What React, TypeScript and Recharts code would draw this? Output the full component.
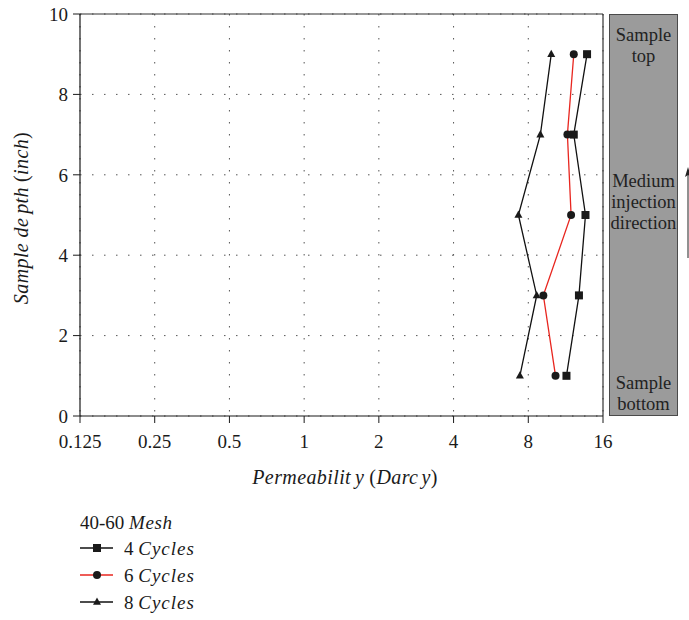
import React from 'react'
import {
  ScatterChart,
  Scatter,
  XAxis,
  YAxis,
  CartesianGrid,
  ReferenceLine,
} from 'recharts'

// sample depth (inch), shared by all three runs
const depths = [1, 3, 5, 7, 9]

// permeability (Darcy) at each depth
const perm4Cycles = [11.4, 12.8, 13.6, 12.2, 13.8]
const perm6Cycles = [10.3, 9.2, 11.9, 11.5, 12.2]
const perm8Cycles = [7.4, 8.65, 7.3, 8.95, 9.9]

const xTicks = [0.125, 0.25, 0.5, 1, 2, 4, 8, 16]
const yTicks = [0, 2, 4, 6, 8, 10]
const yMinorTicks = [1, 3, 5, 7, 9]

// ten even log steps inside each octave
const xMinorTicks = xTicks.slice(0, -1).flatMap((a) =>
  Array.from({ length: 9 }, (_, k) => a * Math.pow(2, (k + 1) / 10))
)

const toPoints = (perm: number[]) => depths.map((depth, i) => ({ depth, perm: perm[i] }))

const series = [
  { name: '4', data: toPoints(perm4Cycles), shape: 'square', line: '#111111' },
  { name: '6', data: toPoints(perm6Cycles), shape: 'circle', line: '#e8261f' },
  { name: '8', data: toPoints(perm8Cycles), shape: 'triangle', line: '#111111' },
]

const FONT = '"Liberation Serif", "DejaVu Serif", serif'
const INK = '#1a1a1a'

function Marker({ shape, x, y }: { shape: string; x: number; y: number }) {
  if (shape === 'square') return <rect x={x - 4} y={y - 4} width={8} height={8} fill={INK} />
  if (shape === 'circle') return <circle cx={x} cy={y} r={4} fill={INK} />
  return <polygon points={`${x},${y - 4.5} ${x + 4},${y + 2.8} ${x - 4},${y + 2.8}`} fill={INK} />
}

function Titles() {
  return (
    <svg width={689} height={500} style={{ position: 'absolute', left: 0, top: 0, pointerEvents: 'none' }}>
      <text x={345} y={484} textAnchor="middle" fontFamily={FONT} fontSize={20} letterSpacing={0.4} fill={INK}>
        <tspan fontStyle="italic">Permeabilit</tspan>
        <tspan fontStyle="italic" dx={4}>y</tspan>
        <tspan dx={5}>(</tspan>
        <tspan fontStyle="italic">Darc</tspan>
        <tspan fontStyle="italic" dx={3}>y</tspan>
        <tspan>)</tspan>
      </text>
      <text
        x={0}
        y={0}
        transform="translate(28 218) rotate(-90)"
        textAnchor="middle"
        fontFamily={FONT}
        fontSize={20}
        letterSpacing={0.4}
        fill={INK}
      >
        <tspan fontStyle="italic">Sample de</tspan>
        <tspan fontStyle="italic" dx={4}>pth</tspan>
        <tspan dx={5}>(</tspan>
        <tspan fontStyle="italic">inch</tspan>
        <tspan>)</tspan>
      </text>
    </svg>
  )
}

function LegendBox() {
  return (
    <svg width={260} height={120} style={{ position: 'absolute', left: 0, top: 500 }}>
      <text x={80} y={29} fontFamily={FONT} fontSize={19} fill={INK}>
        40-60 <tspan fontStyle="italic" letterSpacing={0.6}>Mesh</tspan>
      </text>
      {series.map((s, i) => {
        const cy = 48 + i * 27
        return (
          <g key={s.name}>
            <line x1={80} x2={113} y1={cy} y2={cy} stroke={s.line} strokeWidth={1.3} />
            <Marker shape={s.shape} x={97} y={cy} />
            <text x={124} y={cy + 7} fontFamily={FONT} fontSize={19} fill={INK}>
              {s.name} <tspan fontStyle="italic" letterSpacing={1}>Cycles</tspan>
            </text>
          </g>
        )
      })}
    </svg>
  )
}

function SidePanel() {
  const textStyle: React.CSSProperties = {
    position: 'absolute',
    left: -2,
    width: 71,
    textAlign: 'center',
    fontFamily: FONT,
    fontSize: 18.5,
    lineHeight: '21px',
    color: '#222',
  }
  return (
    <>
      <div
        style={{
          position: 'absolute',
          left: 609,
          top: 14,
          width: 67,
          height: 400,
          background: '#9b9b9b',
          border: '1px solid #4a4a4a',
        }}
      >
        <div style={{ ...textStyle, top: 10 }}>Sample<br />top</div>
        <div style={{ ...textStyle, top: 156 }}>Medium<br />injection<br />direction</div>
        <div style={{ ...textStyle, top: 358 }}>Sample<br />bottom</div>
      </div>
      <svg width={12} height={100} style={{ position: 'absolute', left: 682, top: 166 }}>
        <line x1={6} x2={6} y1={8} y2={92} stroke="#222" strokeWidth={1} />
        <polygon points="6,1 9,11 6,9 3,11" fill="#222" />
      </svg>
    </>
  )
}

export default function App() {
  const axisText = { fontFamily: FONT, fontSize: 19, fill: INK }
  return (
    <div style={{ position: 'absolute', left: 0, top: 0, width: 689, height: 620, background: '#fff' }}>
      <ScatterChart width={689} height={470} margin={{ top: 14, right: 86, bottom: 0, left: 20 }}>
        <XAxis
          xAxisId="minor"
          type="number"
          dataKey="perm"
          scale="log"
          domain={[0.125, 16]}
          allowDataOverflow
          ticks={xMinorTicks}
          interval={0}
          tick={false}
          tickSize={3}
          axisLine={false}
          tickLine={{ stroke: INK }}
          height={0}
        />
        <XAxis
          xAxisId="major"
          type="number"
          dataKey="perm"
          scale="log"
          domain={[0.125, 16]}
          allowDataOverflow
          ticks={xTicks}
          interval={0}
          tickFormatter={(v: number) => String(v)}
          tick={axisText}
          tickSize={7}
          tickMargin={12}
          axisLine={{ stroke: INK, strokeWidth: 1.2 }}
          tickLine={{ stroke: INK }}
          height={54}
        />
        <YAxis
          yAxisId="minor"
          type="number"
          dataKey="depth"
          domain={[0, 10]}
          allowDataOverflow
          ticks={yMinorTicks}
          interval={0}
          tick={false}
          tickSize={3}
          axisLine={false}
          tickLine={{ stroke: INK }}
          width={0}
        />
        <YAxis
          yAxisId="major"
          type="number"
          dataKey="depth"
          domain={[0, 10]}
          allowDataOverflow
          ticks={yTicks}
          interval={0}
          tick={axisText}
          tickSize={7}
          tickMargin={5}
          axisLine={{ stroke: INK, strokeWidth: 1.2 }}
          tickLine={{ stroke: INK }}
          width={60}
        />
        <CartesianGrid
          xAxisId="major"
          yAxisId="major"
          stroke="#555"
          strokeDasharray="1.5 10.5"
        />
        <ReferenceLine xAxisId="major" yAxisId="major" y={10} stroke="#333" strokeWidth={1.2} />
        <ReferenceLine xAxisId="major" yAxisId="major" x={16} stroke="#333" strokeWidth={1.2} />
        {series.map((s) => (
          <Scatter
            key={s.name}
            name={`${s.name} Cycles`}
            xAxisId="major"
            yAxisId="major"
            data={s.data}
            shape={(p: any) => <Marker shape={s.shape} x={p.cx} y={p.cy} />}
            fill={INK}
            line={{ stroke: s.line, strokeWidth: 1.3 }}
            lineType="joint"
            isAnimationActive={false}
          />
        ))}
      </ScatterChart>
      <Titles />
      <SidePanel />
      <LegendBox />
    </div>
  )
}
